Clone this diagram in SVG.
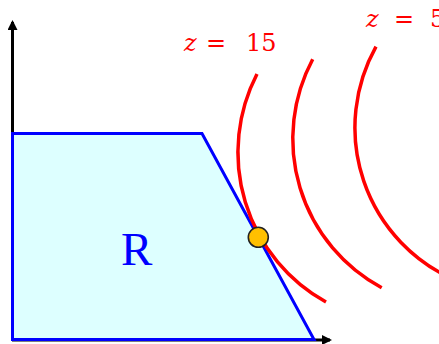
<svg xmlns="http://www.w3.org/2000/svg" width="439" height="344" viewBox="0 0 439 344">
<style>
.axis{stroke:#000;stroke-width:3;fill:none}
.contour{stroke:#FF0000;stroke-width:3.5;fill:none}
.lbl{font-family:"DejaVu Serif",serif;font-size:24px;fill:#FF0000}
.region{fill:#DDFFFF;stroke:#0000FF;stroke-width:3;stroke-linejoin:miter}
</style>
<defs>
<marker id="arr" markerWidth="10" markerHeight="10" refX="8" refY="5" orient="auto" markerUnits="userSpaceOnUse">
<path d="M0,0 L10,5 L0,10 Z" fill="#000"/>
</marker>
</defs>
<g id="connectors">
<line class="axis" x1="12.5" y1="341" x2="12.5" y2="22" marker-end="url(#arr)"/>
<line class="axis" x1="12" y1="340" x2="330" y2="340" marker-end="url(#arr)"/>
</g>
<g id="region">
<polygon class="region" points="12.5,133.5 202,133.5 314,339.5 12.5,339.5"/>
<text x="121" y="265" style="font-family:'Liberation Serif',serif;font-size:47px;fill:#0000FF">R</text>
</g>
<g id="contours">
<path class="contour" d="M257,74 A171,171 0 0 0 326,302"/>
<path class="contour" d="M312.7,59.3 A169,169 0 0 0 381.7,287.7"/>
<path class="contour" d="M376,46.7 A166,166 0 0 0 455,280"/>
</g>
<g id="label-z15">
<text class="lbl" y="51"><tspan x="184" font-style="italic">z</tspan><tspan x="206">=</tspan><tspan x="246">15</tspan></text>
</g>
<g id="label-z5">
<text class="lbl" y="27"><tspan x="366" font-style="italic">z</tspan><tspan x="394">=</tspan><tspan x="430">5</tspan></text>
</g>
<g id="optimum">
<circle cx="258.3" cy="237.3" r="10" fill="#FFC000" stroke="#222" stroke-width="1.6"/>
</g>
</svg>
